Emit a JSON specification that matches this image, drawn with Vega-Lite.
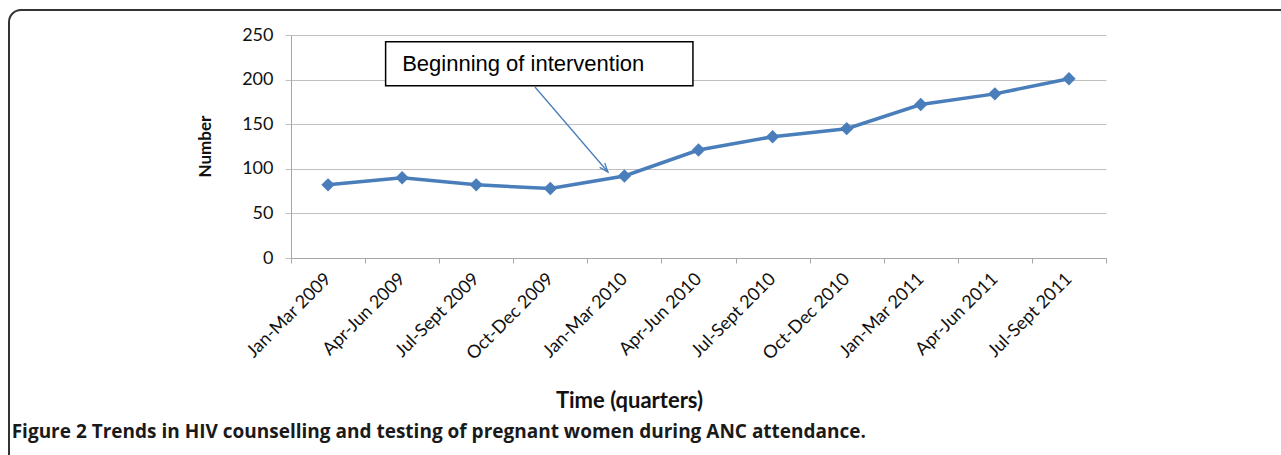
{
  "$schema": "https://vega.github.io/schema/vega-lite/v6.json",
  "width": 815,
  "height": 223,
  "autosize": {"type": "none"},
  "padding": {"left": 291, "top": 35, "right": 175, "bottom": 197},
  "background": "white",
  "config": {"view": {"stroke": null}, "font": "Lato"},
  "datasets": {
    "series": [
      {"quarter": "Jan-Mar 2009", "number": 82},
      {"quarter": "Apr-Jun 2009", "number": 90},
      {"quarter": "Jul-Sept 2009", "number": 82},
      {"quarter": "Oct-Dec 2009", "number": 78},
      {"quarter": "Jan-Mar 2010", "number": 92},
      {"quarter": "Apr-Jun 2010", "number": 121},
      {"quarter": "Jul-Sept 2010", "number": 136},
      {"quarter": "Oct-Dec 2010", "number": 145},
      {"quarter": "Jan-Mar 2011", "number": 172},
      {"quarter": "Apr-Jun 2011", "number": 184},
      {"quarter": "Jul-Sept 2011", "number": 201}
    ],
    "box": [{"x": 1.277, "x2": 5.425, "y": 242.5, "y2": 193.2}],
    "label": [{"x": 1.5, "y": 209.5, "text": "Beginning of intervention"}],
    "caption": [{"x": -3.77, "y": -202, "text": "Figure 2 Trends in HIV counselling and testing of pregnant women during ANC attendance."}],
    "arrow": [{"x": 3.293, "y": 191.7, "x2": 4.278, "y2": 96.4}],
    "frame": [{"x": -3.806, "x2": 25, "y": 278, "y2": -300}]
  },
  "layer": [
    {
      "data": {"name": "series"},
      "encoding": {
        "x": {
          "field": "quarter",
          "type": "nominal",
          "sort": null,
          "scale": {"type": "band", "paddingInner": 0, "paddingOuter": 0},
          "axis": {
            "title": "Time (quarters)",
            "labelAngle": -45,
            "labelAlign": "right",
            "labelBaseline": "middle",
            "labelPadding": 13,
            "labelFont": "Lato",
            "labelFontSize": 18,
            "labelColor": "#111111",
            "tickBand": "extent",
            "ticks": true,
            "tickSize": 5,
            "tickColor": "#a6a6a6",
            "domainColor": "#a6a6a6",
            "grid": false,
            "titleFont": "Lato",
            "titleFontSize": 22,
            "titleFontWeight": "bold",
            "titleColor": "#111111",
            "titleX": 338,
            "titleY": 149,
            "titleBaseline": "alphabetic"
          }
        },
        "y": {
          "field": "number",
          "type": "quantitative",
          "scale": {"domain": [0, 250], "nice": false},
          "axis": {
            "title": "Number",
            "values": [0, 50, 100, 150, 200, 250],
            "grid": true,
            "gridColor": "#bfbfbf",
            "domainColor": "#a6a6a6",
            "tickColor": "#bfbfbf",
            "tickSize": 6,
            "labelPadding": 12,
            "labelFont": "Lato",
            "labelFontSize": 18,
            "labelColor": "#111111",
            "titleFont": "Lato",
            "titleFontSize": 17,
            "titleFontWeight": "bold",
            "titleColor": "#111111",
            "titleX": -86,
            "titleY": 111,
            "titleBaseline": "middle"
          }
        }
      },
      "layer": [
        {"mark": {"type": "line", "color": "#4a7ebb", "strokeWidth": 3.5}},
        {"mark": {"type": "point", "shape": "diamond", "size": 180, "filled": true, "color": "#4a7ebb", "opacity": 1}}
      ]
    },
    {
      "layer": [
        {
          "data": {"name": "frame"},
          "mark": {"type": "rect", "fill": null, "stroke": "#333333", "strokeWidth": 2, "cornerRadius": 12, "clip": false},
          "encoding": {
            "x": {"field": "x", "type": "quantitative", "scale": {"domain": [0, 11], "nice": false, "zero": false}, "axis": null},
            "x2": {"field": "x2"},
            "y": {"field": "y", "type": "quantitative", "scale": {"domain": [0, 250], "nice": false}},
            "y2": {"field": "y2"}
          }
        },
        {
          "data": {"name": "arrow"},
          "mark": {"type": "rule", "color": "#4a7ebb", "strokeWidth": 1.3},
          "encoding": {
            "x": {"field": "x", "type": "quantitative", "scale": {"domain": [0, 11], "nice": false, "zero": false}, "axis": null},
            "x2": {"field": "x2"},
            "y": {"field": "y", "type": "quantitative", "scale": {"domain": [0, 250], "nice": false}},
            "y2": {"field": "y2"}
          }
        },
        {
          "data": {"name": "arrow"},
          "mark": {"type": "point", "shape": "M -0.9 -2.4 L 0 0 L 0.9 -2.4", "size": 55, "filled": false, "stroke": "#4a7ebb", "strokeWidth": 1.3, "angle": 319.35, "opacity": 1},
          "encoding": {
            "x": {"field": "x2", "type": "quantitative", "scale": {"domain": [0, 11], "nice": false, "zero": false}, "axis": null},
            "y": {"field": "y2", "type": "quantitative", "scale": {"domain": [0, 250], "nice": false}}
          }
        },
        {
          "data": {"name": "box"},
          "mark": {"type": "rect", "fill": "white", "stroke": "#000000", "strokeWidth": 1.5},
          "encoding": {
            "x": {"field": "x", "type": "quantitative", "scale": {"domain": [0, 11], "nice": false, "zero": false}, "axis": null},
            "x2": {"field": "x2"},
            "y": {"field": "y", "type": "quantitative", "scale": {"domain": [0, 250], "nice": false}},
            "y2": {"field": "y2"}
          }
        },
        {
          "data": {"name": "label"},
          "mark": {"type": "text", "align": "left", "baseline": "alphabetic", "font": "Liberation Sans", "fontSize": 22, "color": "#000000"},
          "encoding": {
            "x": {"field": "x", "type": "quantitative", "scale": {"domain": [0, 11], "nice": false, "zero": false}, "axis": null},
            "y": {"field": "y", "type": "quantitative", "scale": {"domain": [0, 250], "nice": false}},
            "text": {"field": "text"}
          }
        },
        {
          "data": {"name": "caption"},
          "mark": {"type": "text", "align": "left", "baseline": "alphabetic", "font": "Open Sans", "fontSize": 19, "fontWeight": "bold", "color": "#1a1a1a", "clip": false},
          "encoding": {
            "x": {"field": "x", "type": "quantitative", "scale": {"domain": [0, 11], "nice": false, "zero": false}, "axis": null},
            "y": {"field": "y", "type": "quantitative", "scale": {"domain": [0, 250], "nice": false}},
            "text": {"field": "text"}
          }
        }
      ]
    }
  ],
  "resolve": {"scale": {"x": "independent"}}
}
